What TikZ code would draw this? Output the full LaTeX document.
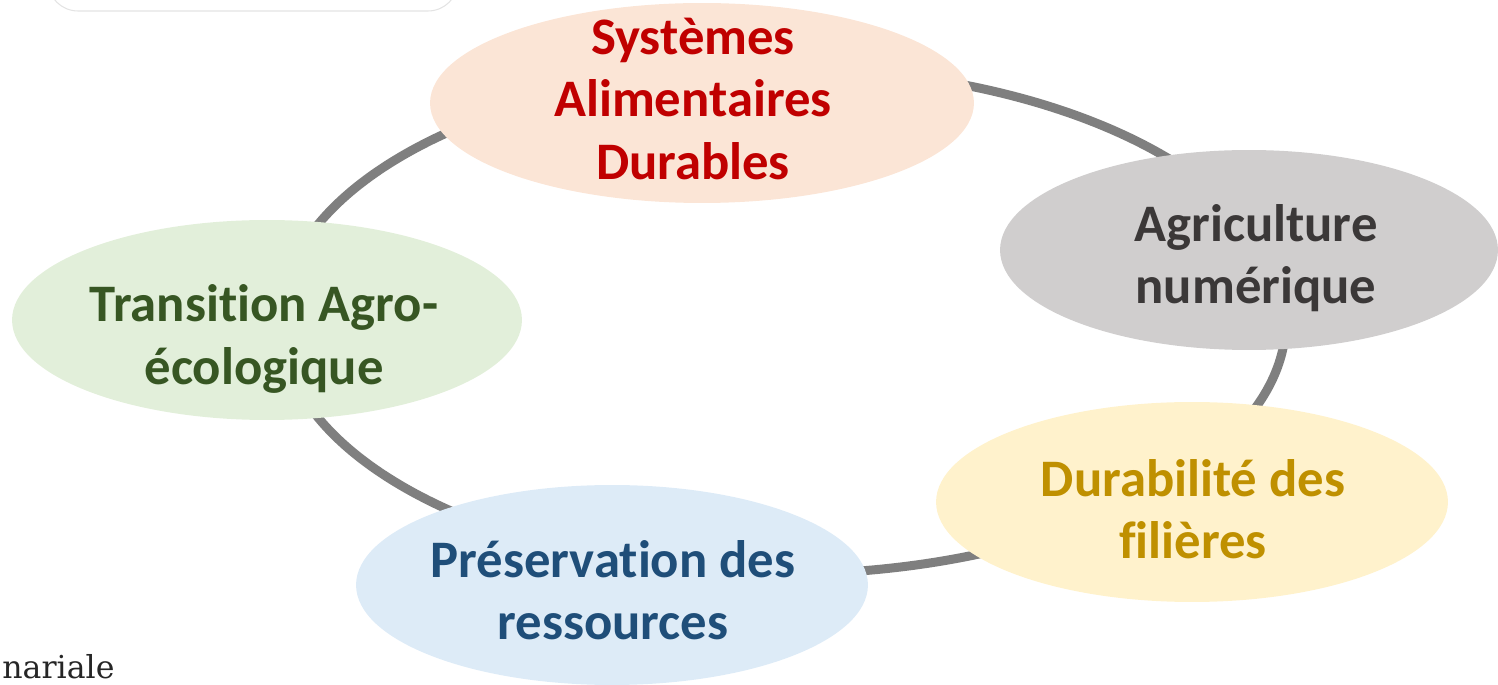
\documentclass[tikz,border=0pt]{standalone}
\usepackage{fontspec}
\setmainfont[Ligatures={NoCommon,NoRequired,NoContextual}]{Carlito}
\newfontfamily\notefont{DejaVu Serif}
\usetikzlibrary{shapes.geometric}
\definecolor{ringgray}{HTML}{7F7F7F}
\definecolor{sadfill}{HTML}{FBE5D6}\definecolor{sadtext}{HTML}{C00000}
\definecolor{anfill}{HTML}{D0CECE}\definecolor{antext}{HTML}{3B3838}
\definecolor{taefill}{HTML}{E2EFDA}\definecolor{taetext}{HTML}{375623}
\definecolor{dffill}{HTML}{FFF2CC}\definecolor{dftext}{HTML}{BF9000}
\definecolor{prfill}{HTML}{DDEBF7}\definecolor{prtext}{HTML}{1F4E79}
\newcommand\nolig{\kern0pt }
\tikzset{
  bubble/.style={ellipse, draw=none, inner sep=0pt, minimum height=4cm},
  lbl/.style={font=\bfseries\fontsize{30}{35.5}\selectfont, align=center, inner sep=0pt},
  ring/.style={draw=ringgray, line width=0.18cm}
}
\begin{document}
\begin{tikzpicture}[x=0.02cm, y=-0.02cm]
\useasboundingbox (0,0) rectangle (1498,685);
% faint box fragment top-left
\draw[gray!22, line width=0.6pt, rounded corners=0.6cm] (48,-120) -- (48,11) -- (458,11) -- (458,-120);
% ring
\coordinate (ringc) at (783,321);
\draw[ring] (ringc) ellipse [x radius=10.06cm, y radius=5.06cm];
% bubbles
\node[bubble, fill=sadfill, minimum width=10.88cm] (sad) at (702,103) {};
\node[bubble, fill=anfill, minimum width=9.96cm] (an) at (1249,250) {};
\node[bubble, fill=taefill, minimum width=10.2cm] (tae) at (267,320) {};
\node[bubble, fill=dffill, minimum width=10.24cm] (df) at (1192,502) {};
\node[bubble, fill=prfill, minimum width=10.24cm] (pr) at (612,585) {};
% labels
\node[lbl, text=sadtext] (sadl) at (693,99) {Systèmes\\Alimentaires\\Durables};
\node[lbl, text=antext] (anl) at (1256,258) {Agriculture\\numérique};
\node[lbl, text=taetext] (tael) at (264,339) {Transit\nolig ion Agro-\\écologique};
\node[lbl, text=dftext] (dfl) at (1193,509) {Durabilité des\\f\nolig ilières};
\node[lbl, text=prtext] (prl) at (613,590) {Préservat\nolig ion des\\ressources};
% cut-off note
\node[font=\notefont\fontsize{18}{20}\selectfont, text=black!85, anchor=base west, inner sep=0pt] (note) at (2,678) {nariale};
\end{tikzpicture}
\end{document}
